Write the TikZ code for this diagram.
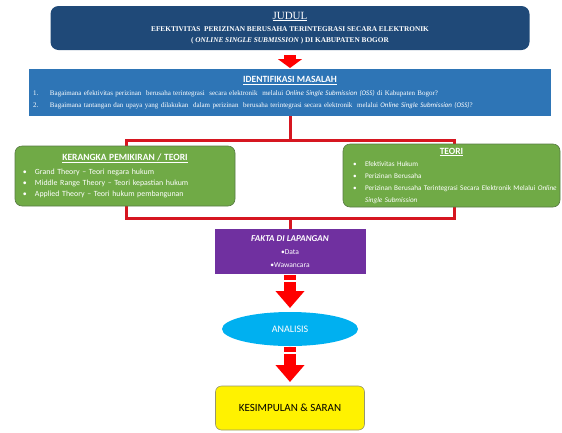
\documentclass[tikz,border=0pt]{standalone}
\usepackage{fontspec}
\setmainfont{Liberation Serif}
\newfontfamily\calibri{Carlito}
\usetikzlibrary{positioning,arrows.meta,shapes.geometric,calc}
\definecolor{judulblue}{RGB}{31,73,120}
\definecolor{identblue}{RGB}{46,117,182}
\definecolor{teorigreen}{RGB}{112,170,70}
\definecolor{greenedge}{RGB}{88,122,68}
\definecolor{faktapurple}{RGB}{112,48,160}
\definecolor{analisiscyan}{RGB}{0,176,240}
\definecolor{arrowred}{RGB}{255,0,0}
\definecolor{framered}{RGB}{214,22,32}
\definecolor{sarangray}{RGB}{150,150,110}
\newcommand{\gitem}[1]{\makebox[12pt][l]{\textbullet}\mbox{#1}}
\tikzset{
  judulbox/.style ={rectangle, rounded corners=8pt, fill=judulblue, text=white, align=center,
                    minimum width=479pt, minimum height=44pt, inner sep=0pt, outer sep=0pt,
                    font=\bfseries\fontsize{7.3}{11}\selectfont},
  identbox/.style ={rectangle, fill=identblue, text=white, align=left, text width=514pt,
                    inner xsep=4pt, inner ysep=0pt, minimum height=47pt, outer sep=0pt,
                    font=\fontsize{7}{12}\selectfont},
  gbox/.style     ={rectangle, rounded corners=7pt, fill=teorigreen, draw=greenedge, line width=0.6pt,
                    text=white, align=left, inner ysep=0pt, outer sep=0pt,
                    font=\calibri\fontsize{7.9}{11}\selectfont},
  pbox/.style     ={rectangle, fill=faktapurple, text=white, align=center, minimum width=151pt,
                    minimum height=45pt, inner sep=0pt, outer sep=0pt,
                    font=\calibri\fontsize{7.5}{13}\selectfont},
  ebox/.style     ={ellipse, fill=analisiscyan, text=white, minimum width=136pt, minimum height=34pt,
                    inner sep=0pt, outer sep=0pt, font=\calibri\fontsize{10}{12}\selectfont},
  ybox/.style     ={rectangle, rounded corners=6pt, fill=yellow, draw=sarangray, line width=0.6pt,
                    minimum width=149pt, minimum height=44pt, inner sep=0pt, outer sep=0pt,
                    font=\calibri\fontsize{11}{13}\selectfont},
  redframe/.style ={rectangle, draw=framered, line width=3pt, minimum width=328pt,
                    minimum height=78pt, inner sep=0pt, outer sep=0pt},
  redline/.style  ={draw=framered, line width=3pt},
  flow/.style     ={draw=arrowred, line width=12pt, -{Triangle[width=28pt,length=17pt]}},
  stripe/.style   ={draw=white, line width=1.2pt}
}
\begin{document}
\begin{tikzpicture}[x=1pt, y=-1pt]
\useasboundingbox (0,0) rectangle (562,432);
\node[judulbox] (judul) at (290,28)
  {{\mdseries\fontsize{11}{14}\selectfont\underline{JUDUL}}\\[1.5pt]
   EFEKTIVITAS\ \ PERIZINAN BERUSAHA TERINTEGRASI SECARA ELEKTRONIK\\
   ( \textit{ONLINE SINGLE SUBMISSION} ) DI KABUPATEN BOGOR};
\node[identbox, below=19pt of judul] (ident)
  {\makebox[514pt]{\calibri\bfseries\fontsize{9.5}{12}\selectfont\underline{IDENTIFIKASI MASALAH}}\\[1pt]
   \makebox[17pt][l]{1.}Bagaimana efektivitas perizinan\ \ berusaha terintegrasi\ \ secara elektronik\ \ melalui
   {\calibri\itshape Online Single Submission (OSS)} di Kabupaten Bogor?\\
   \makebox[17pt][l]{2.}Bagaimana tantangan dan upaya yang dilakukan\ \ dalam perizinan\ \ berusaha terintegrasi
   secara elektronik\ \ melalui {\calibri\itshape Online Single Submission (OSS)}?};
\node[redframe, below=24pt of ident] (kerangkaframe) {};
\node[gbox, text width=204pt, inner xsep=8pt, minimum height=60pt] (kerangka) at (125,176)
  {\makebox[204pt]{\fontsize{9.5}{12}\selectfont\bfseries\underline{KERANGKA PEMIKIRAN / TEORI}}\\[3pt]
   \gitem{Grand Theory – Teori negara hukum}\\
   \gitem{Middle Range Theory – Teori kepastian hukum}\\
   \gitem{Applied Theory – Teori hukum pembangunan}};
\node[gbox, text width=205pt, inner xsep=6pt, minimum height=63pt,
      font=\calibri\fontsize{7.2}{12}\selectfont] (teori) at (451.5,175.5)
  {\makebox[205pt]{\fontsize{9.5}{12}\selectfont\bfseries\underline{TEORI}}\\
   \hspace*{4pt}\gitem{Efektivitas Hukum}\\
   \hspace*{4pt}\gitem{Perizinan Berusaha}\\
   \hspace*{4pt}\gitem{Perizinan Berusaha Terintegrasi Secara Elektronik Melalui \textit{Online}}\\
   \hspace*{16pt}\textit{Single Submission}};
\node[pbox, below=11pt of kerangkaframe] (fakta)
  {{\fontsize{9}{13}\selectfont\bfseries\itshape FAKTA DI LAPANGAN}\\
   \textbullet Data\\
   \textbullet Wawancara};
\node[ebox, below=38pt of fakta] (analisis) {ANALISIS};
\node[ybox, below=40pt of analisis] (kesimpulan) {KESIMPULAN \& SARAN};
% connectors
\draw[flow, -{Triangle[width=24pt,length=9pt]}, shorten <=5pt, shorten >=1pt] (judul) -- (ident);
\draw[redline] (ident) -- (kerangkaframe);
\draw[redline] (kerangkaframe) -- (fakta);
\draw[flow, shorten <=1pt, shorten >=4pt] (fakta) -- (analisis);
\draw[stripe] ($(fakta.south)+(-7,7)$) -- ++(14,0);
\draw[flow, shorten <=1pt, shorten >=4pt] (analisis) -- (kesimpulan);
\draw[stripe] ($(analisis.south)+(-7,7)$) -- ++(14,0);
\end{tikzpicture}
\end{document}
